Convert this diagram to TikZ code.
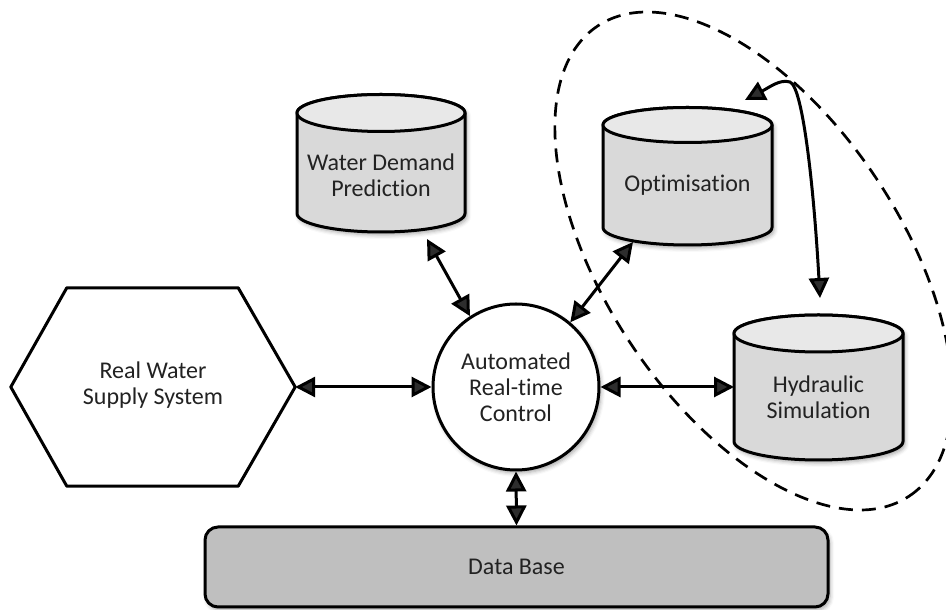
\documentclass[tikz,border=0pt]{standalone}
\usepackage{fontspec}
\setmainfont{Carlito}[Ligatures=NoCommon]
\usetikzlibrary{arrows.meta,shadows.blur,calc}
\definecolor{cylbody}{HTML}{D9D9D9}
\definecolor{cyltop}{HTML}{E8E8E8}
\definecolor{dbfill}{HTML}{BFBFBF}
\definecolor{txtc}{HTML}{222222}
\tikzset{
  outl/.style={draw=black, line width=3pt},
  shad/.style={blur shadow={shadow xshift=2pt, shadow yshift=-3pt, shadow blur radius=4pt, shadow opacity=35}},
  lbl/.style={font=\fontsize{24}{26}\selectfont, text=txtc, align=center, inner sep=0pt},
  conn/.style={line width=3pt, {Triangle[length=20pt,width=20pt]}-{Triangle[length=20pt,width=20pt]}},
  grp/.style={line width=2.7pt, dash pattern=on 14pt off 9pt}
}
\newcommand\mycyl[5]{% cx, ytop, ybot, half width, ry
  \path[outl, fill=cylbody, shad]
    ({#1-#4},#2) -- ({#1-#4},#3) arc[start angle=180,end angle=360,x radius=#4,y radius=#5]
    -- ({#1+#4},#2) arc[start angle=0,end angle=180,x radius=#4,y radius=#5] -- cycle;
  \draw[outl, fill=cyltop] (#1,#2) ellipse[x radius=#4, y radius=#5];
}
\begin{document}
\begin{tikzpicture}[x=1pt,y=1pt,line join=round]
\useasboundingbox (0,0) rectangle (946,610);

% dashed group ellipse
\draw[grp, rotate around={-56.5:(753.5,349)}] (753.5,349) ellipse[x radius=282, y radius=148];

% hexagon
\node[lbl, minimum width=284pt, minimum height=198pt] (rws) at (153,223) {};
\draw[outl, fill=white] (rws.west) -- ($(rws.north west)+(56,0)$) -- ($(rws.north east)+(-57,0)$)
  -- (rws.east) -- ($(rws.south east)+(-57,0)$) -- ($(rws.south west)+(56,0)$) -- cycle;
\node[lbl] (rwst) at (153,225) {Real Water\\Supply System};

% circle
\node[circle, outl, fill=white, shad, minimum size=166pt, lbl] (circ) at (516,223) {Automated\\Real-time\\Control};

% cylinders
\mycyl{381}{497}{396.5}{84}{18.5}
\node[lbl] (wdp) at (381,434.5) {Water Demand\\Prediction};
\mycyl{687.5}{485}{382.5}{84.5}{17.5}
\node[lbl] (opt) at (687.5,425) {Optimisation};
\mycyl{818.5}{276.5}{168.5}{84.5}{18.5}
\node[lbl] (hyd) at (818.5,213) {Hydraulic\\Simulation};

% data base
\node[outl, fill=dbfill, shad, rounded corners=13pt, minimum width=623pt, minimum height=80pt, lbl] (db) at (516.5,43) {Data Base};

% connector end points on the cylinders
\coordinate (wdpP) at (427,371);
\coordinate (optP) at (633,368);
\coordinate (hydW) at (734,223);
\coordinate (optQ) at (745,510);
\coordinate (hydN) at (820,312);

% connectors
\draw[conn] (rws.east) -- (circ.west);
\draw[conn] (circ.east) -- (hydW);
\draw[conn] (circ.123) -- (wdpP);
\draw[conn] (circ.50) -- (optP);
\draw[conn] (circ.south) -- (db.north);
\draw[conn] (optQ) .. controls (770,523) and (780,531) .. (790,528)
  .. controls (803,523) and (814,420) .. (hydN);
\end{tikzpicture}
\end{document}
